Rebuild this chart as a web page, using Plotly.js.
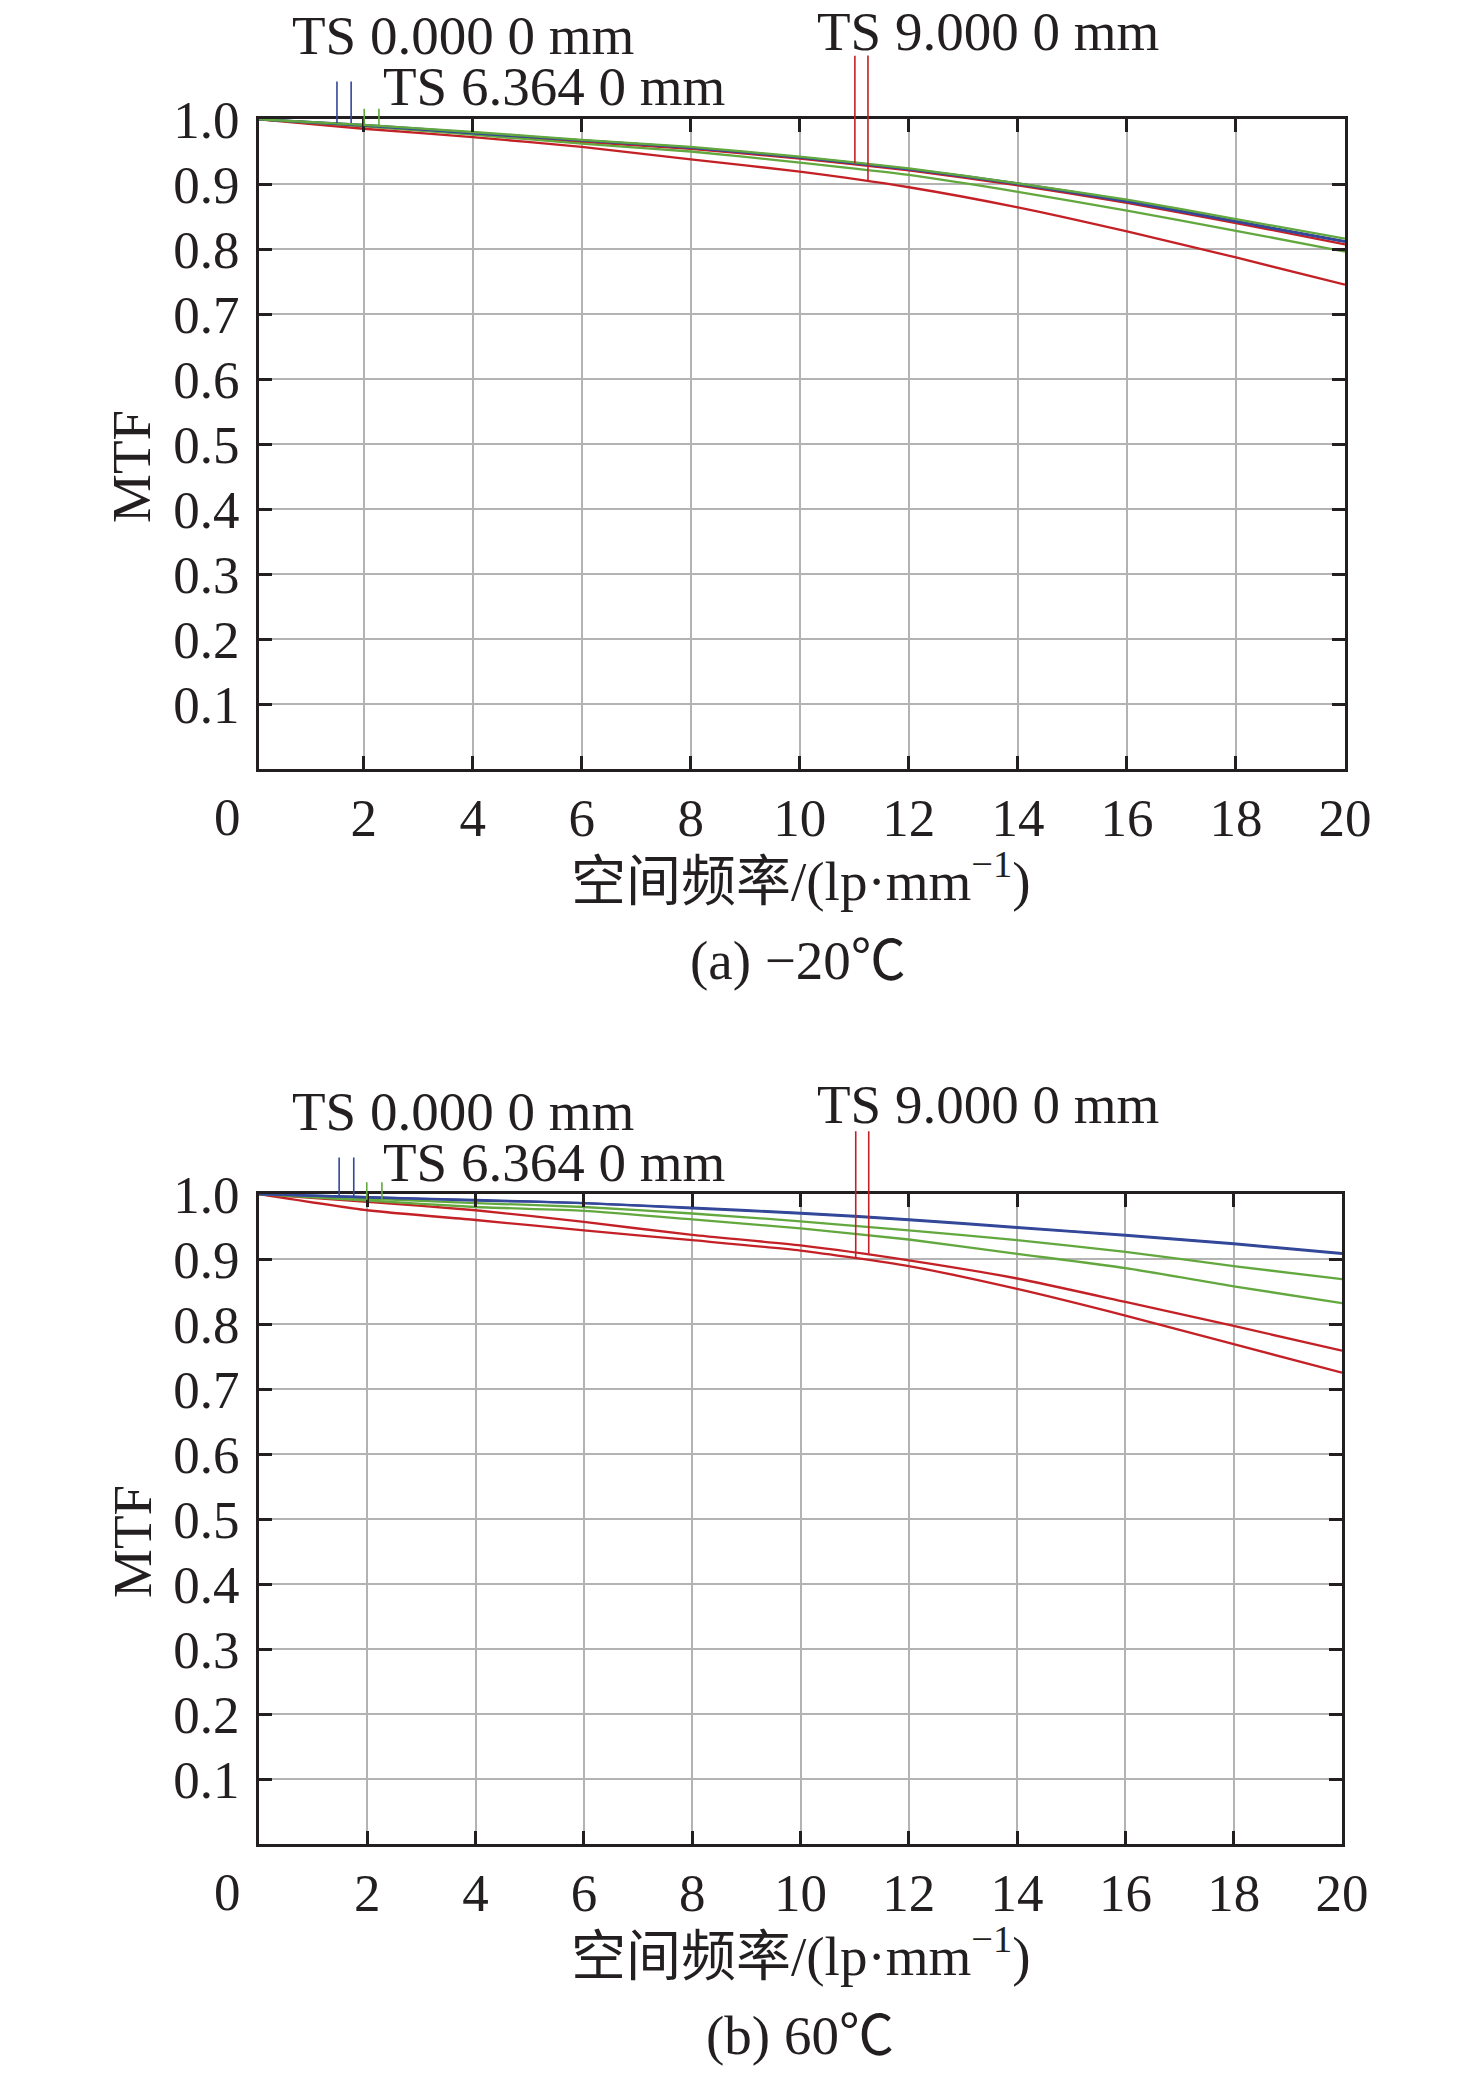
<!DOCTYPE html>
<html>
<head>
<meta charset="utf-8">
<script src="https://cdn.plot.ly/plotly-3.0.1.min.js"></script>
<style>html,body{margin:0;padding:0;background:#fff;}#chart{width:1476px;height:2073px;}</style>
</head>
<body>
<div id="chart"></div>
<script>
// ---------- data ----------
const freq = [0, 2, 4, 6, 8, 10, 12, 14, 16, 18, 20];
const xTickVals = [2, 4, 6, 8, 10, 12, 14, 16, 18, 20];
const xTickText = ['2', '4', '6', '8', '10', '12', '14', '16', '18', '20'];
const yTickVals = [0.1, 0.2, 0.3, 0.4, 0.5, 0.6, 0.7, 0.8, 0.9, 1.0];
const yTickText = ['0.1', '0.2', '0.3', '0.4', '0.5', '0.6', '0.7', '0.8', '0.9', '1.0'];

// (a) -20 C
const a_blueT  = [1.0, 0.990, 0.978, 0.967, 0.956, 0.941, 0.923, 0.900, 0.873, 0.842, 0.811];
const a_blueS  = [1.0, 0.991, 0.979, 0.967, 0.956, 0.941, 0.923, 0.901, 0.874, 0.843, 0.812];
const a_greenT = [1.0, 0.991, 0.980, 0.968, 0.957, 0.942, 0.924, 0.901, 0.876, 0.846, 0.816];
const a_greenS = [1.0, 0.989, 0.976, 0.962, 0.950, 0.933, 0.914, 0.888, 0.859, 0.828, 0.796];
const a_redT   = [1.0, 0.989, 0.977, 0.965, 0.954, 0.939, 0.921, 0.898, 0.871, 0.840, 0.807];
const a_redS   = [1.0, 0.985, 0.972, 0.957, 0.938, 0.919, 0.895, 0.864, 0.827, 0.787, 0.745];

// (b) 60 C
const b_blueT  = [1.0, 0.995, 0.990, 0.986, 0.978, 0.970, 0.960, 0.948, 0.936, 0.923, 0.908];
const b_blueS  = [1.0, 0.995, 0.991, 0.986, 0.979, 0.971, 0.961, 0.949, 0.937, 0.924, 0.909];
const b_greenT = [1.0, 0.993, 0.986, 0.980, 0.970, 0.958, 0.944, 0.929, 0.911, 0.889, 0.869];
const b_greenS = [1.0, 0.990, 0.980, 0.974, 0.961, 0.947, 0.930, 0.908, 0.886, 0.858, 0.832];
const b_redT   = [1.0, 0.988, 0.975, 0.957, 0.937, 0.921, 0.898, 0.870, 0.834, 0.797, 0.759];
const b_redS   = [1.0, 0.975, 0.960, 0.944, 0.929, 0.913, 0.889, 0.854, 0.813, 0.769, 0.725];

// legend marker ticks (field labels): x position and curve value where they end
const a_markX = [1.51, 1.77, 2.01, 2.28, 11.01, 11.25];
const a_markY = [0.994, 0.994, 0.989, 0.989, 0.932, 0.903];
const b_markX = [1.48, 1.75, 1.99, 2.27, 11.02, 11.26];
const b_markY = [0.997, 0.997, 0.991, 0.991, 0.902, 0.908];

const fieldLabels = ['TS 0.000 0 mm', 'TS 6.364 0 mm', 'TS 9.000 0 mm'];
const xTitle = '空间频率/(lp·mm<sup>−1</sup>)';
const yTitle = 'MTF';
const captions = ['(a) −20℃', '(b) 60℃'];

// ---------- styles ----------
const W = 1476, H = 2073;
const BLUE = '#34489a', GREEN = '#62a83e', RED = '#c42127', INK = '#231f20';
const markColors = [BLUE, BLUE, GREEN, GREEN, RED, RED];
const a_markLen = [43, 43, 19, 19, 109, 128];
const b_markLen = [40, 40, 19, 19, 128, 124];
const FONT = 'Liberation Serif, Times New Roman, Noto Sans CJK SC, serif';
const FS = 53;
const FS_LBL = 55;
const px = v => v / W;
const py = v => 1 - v / H;

function series(x, y, color, xa, ya) {
  return {x: x, y: y, type: 'scatter', mode: 'lines', xaxis: xa, yaxis: ya,
          line: {color: color, width: 2.3, shape: 'spline', smoothing: 0.6},
          hoverinfo: 'skip', showlegend: false};
}

const data = [
  series(freq, a_redS, RED, 'x', 'y'),
  series(freq, a_redT, RED, 'x', 'y'),
  series(freq, a_greenS, GREEN, 'x', 'y'),
  series(freq, a_blueS, BLUE, 'x', 'y'),
  series(freq, a_blueT, BLUE, 'x', 'y'),
  series(freq, a_greenT, GREEN, 'x', 'y'),
  series(freq, b_redS, RED, 'x2', 'y2'),
  series(freq, b_redT, RED, 'x2', 'y2'),
  series(freq, b_greenS, GREEN, 'x2', 'y2'),
  series(freq, b_greenT, GREEN, 'x2', 'y2'),
  series(freq, b_blueS, BLUE, 'x2', 'y2'),
  series(freq, b_blueT, BLUE, 'x2', 'y2')
];

const axCommon = {
  showline: true, linewidth: 3, linecolor: INK, mirror: 'ticks',
  ticks: 'inside', ticklen: 13, tickwidth: 3, tickcolor: INK,
  showgrid: true, gridcolor: '#b3b3b3', gridwidth: 2, zeroline: false,
  tickfont: {family: FONT, size: FS, color: INK}, fixedrange: true
};
function xAx(domain, range, anchor) {
  return Object.assign({}, axCommon, {domain: domain, range: range, anchor: anchor,
    tickmode: 'array', tickvals: xTickVals, ticktext: xTickText, ticklabelstandoff: 0});
}
function yAx(domain, anchor) {
  return Object.assign({}, axCommon, {domain: domain, range: [0, 1], anchor: anchor,
    tickmode: 'array', tickvals: yTickVals, ticktext: yTickText, ticklabelstandoff: 6});
}

const annotations = [];
function txt(text, x, y, xanchor, extra, size) {
  annotations.push(Object.assign({text: text, xref: 'paper', yref: 'paper', x: px(x), y: py(y),
    xanchor: xanchor, yanchor: 'middle', showarrow: false,
    font: {family: FONT, size: size || FS, color: INK}}, extra || {}));
}
function marks(xs, ys, lens, xa, ya) {
  xs.forEach((xv, i) => {
    annotations.push({text: '', xref: xa, yref: ya, x: xv, y: ys[i], ax: 0, ay: -lens[i],
      showarrow: true, arrowhead: 0, arrowwidth: 1.6, arrowcolor: markColors[i],
      standoff: 0, startstandoff: 0});
  });
}

// chart (a)
txt(fieldLabels[0], 290, 36, 'left', null, FS_LBL);
txt(fieldLabels[1], 381, 87, 'left', null, FS_LBL);
txt(fieldLabels[2], 815, 31, 'left', null, FS_LBL);
txt('0', 227, 817, 'center');
txt(xTitle, 801, 877, 'center', null, FS_LBL);
txt(captions[0], 798, 960, 'center', null, FS_LBL);
txt(yTitle, 132, 467, 'center', {textangle: -90}, FS_LBL);
marks(a_markX, a_markY, a_markLen, 'x', 'y');
// chart (b)
txt(fieldLabels[0], 290, 1111, 'left', null, FS_LBL);
txt(fieldLabels[1], 381, 1162, 'left', null, FS_LBL);
txt(fieldLabels[2], 815, 1104, 'left', null, FS_LBL);
txt('0', 227, 1892, 'center');
txt(xTitle, 801, 1952, 'center', null, FS_LBL);
txt(captions[1], 800, 2035, 'center', null, FS_LBL);
txt(yTitle, 132, 1542, 'center', {textangle: -90}, FS_LBL);
marks(b_markX, b_markY, b_markLen, 'x2', 'y2');

const layout = {
  width: W, height: H, margin: {l: 0, r: 0, t: 0, b: 0, pad: 0},
  paper_bgcolor: '#ffffff', plot_bgcolor: '#ffffff', showlegend: false,
  xaxis: xAx([px(259), px(1345)], [0.08, 20], 'y'),
  yaxis: yAx([py(769), py(119)], 'x'),
  xaxis2: xAx([px(259), px(1342)], [0, 20], 'y2'),
  yaxis2: yAx([py(1844), py(1194)], 'x2'),
  annotations: annotations
};

Plotly.newPlot('chart', data, layout, {staticPlot: true, displayModeBar: false});
</script>
</body>
</html>
